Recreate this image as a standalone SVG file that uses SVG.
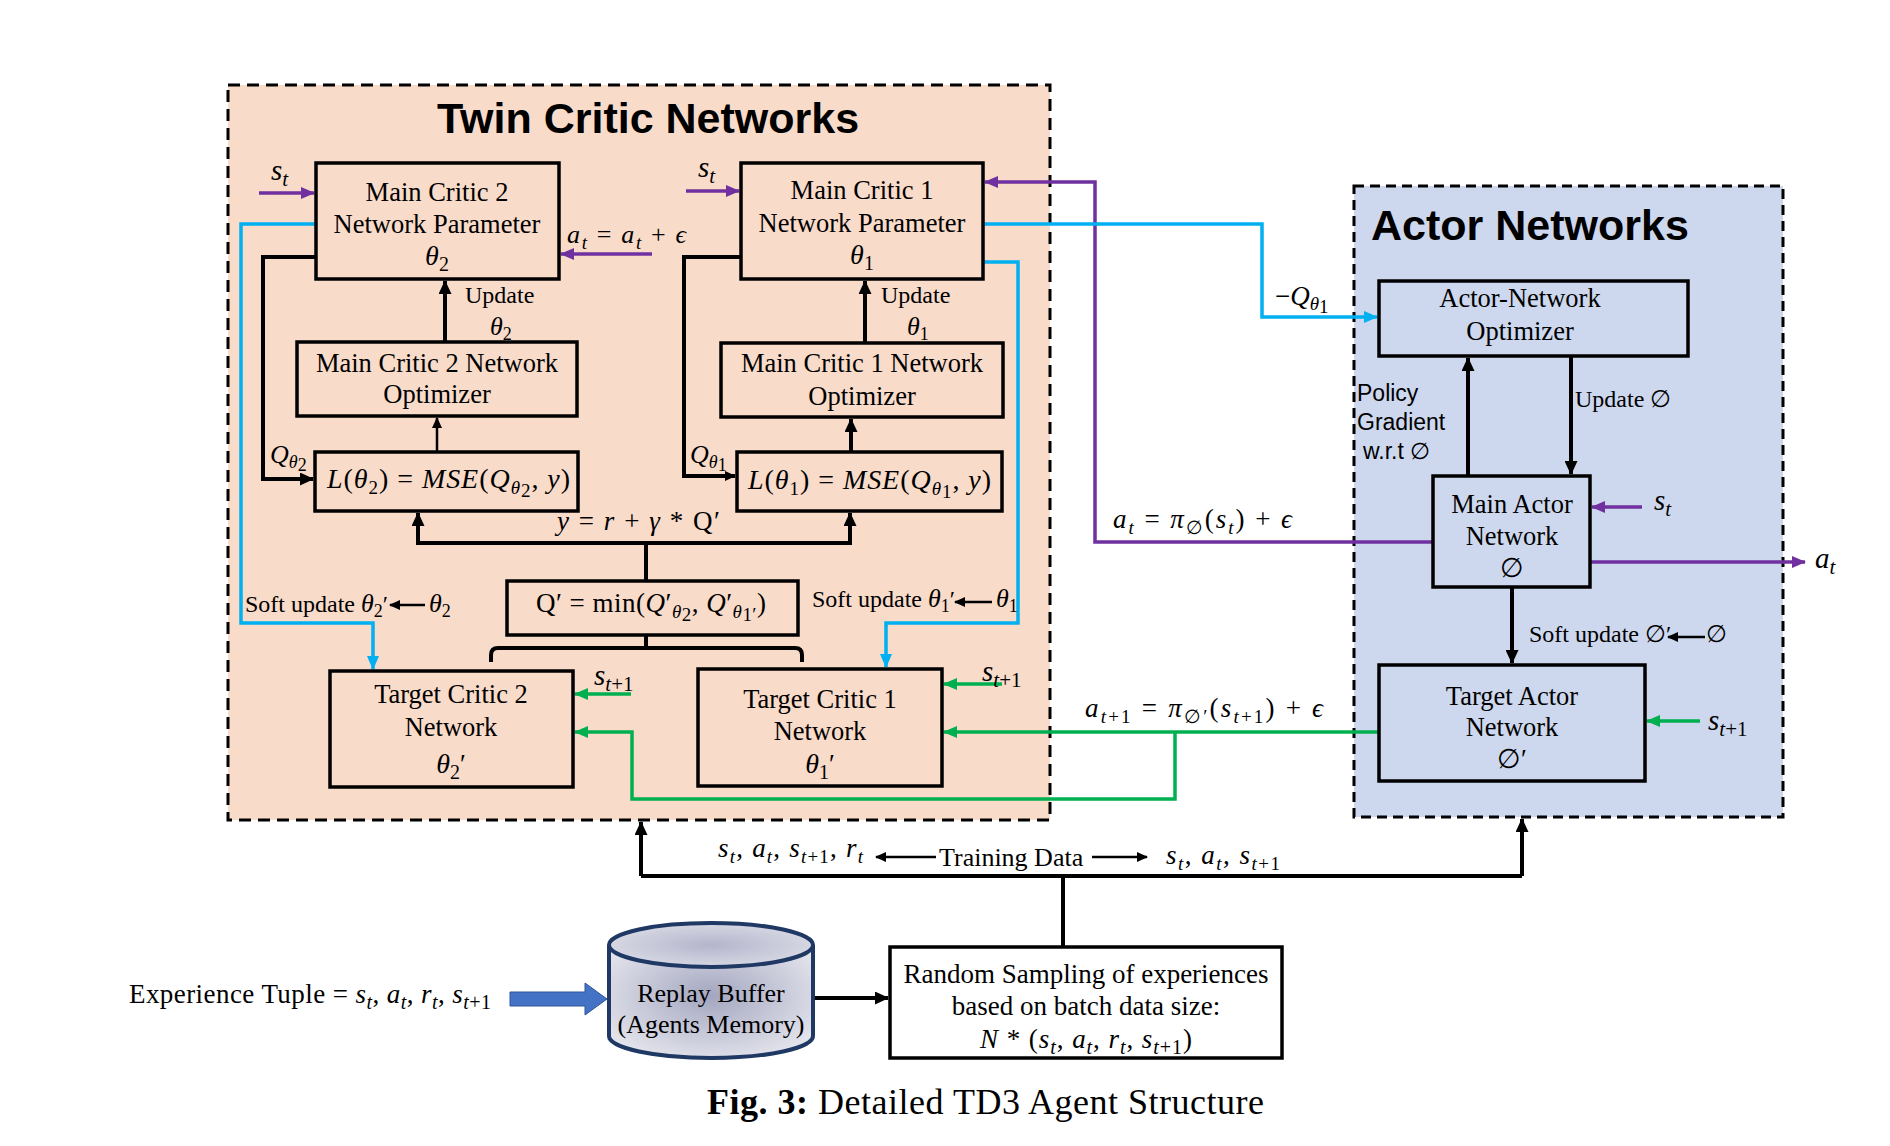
<svg xmlns="http://www.w3.org/2000/svg" width="1890" height="1146" viewBox="0 0 1890 1146">
<style>
text{font-family:"Liberation Serif","Times New Roman",serif;fill:#000}
.bx{font-size:26.5px}
.lb{font-size:24px}
.mi{font-style:italic}
.ttl{font-family:"Liberation Sans",Arial,sans-serif;font-weight:bold;font-size:43px}
.ar{font-family:"Liberation Sans",Arial,sans-serif;font-size:23px}
.node{fill:none;stroke:#000;stroke-width:3.5}
.kb{fill:none;stroke:#000;stroke-width:4}
.kt{fill:none;stroke:#000;stroke-width:2.5}
.pu{fill:none;stroke:#7030A0;stroke-width:3.5}
.bl{fill:none;stroke:#00B0F0;stroke-width:3.5}
.gr{fill:none;stroke:#00B050;stroke-width:3.5}
</style>
<defs>
<marker id="mk" markerUnits="userSpaceOnUse" markerWidth="14" markerHeight="13" refX="13" refY="6.5" orient="auto"><path d="M0,0 L14,6.5 L0,13 z" fill="#000"/></marker>
<marker id="mks" markerUnits="userSpaceOnUse" markerWidth="11" markerHeight="10" refX="10" refY="5" orient="auto"><path d="M0,0 L11,5 L0,10 z" fill="#000"/></marker>
<marker id="mp" markerUnits="userSpaceOnUse" markerWidth="14" markerHeight="12" refX="13" refY="6" orient="auto"><path d="M0,0 L14,6 L0,12 z" fill="#7030A0"/></marker>
<marker id="mb" markerUnits="userSpaceOnUse" markerWidth="14" markerHeight="12" refX="13" refY="6" orient="auto"><path d="M0,0 L14,6 L0,12 z" fill="#00B0F0"/></marker>
<marker id="mg" markerUnits="userSpaceOnUse" markerWidth="14" markerHeight="12" refX="13" refY="6" orient="auto"><path d="M0,0 L14,6 L0,12 z" fill="#00B050"/></marker>
<radialGradient id="cyl" cx="0.5" cy="0.45" r="0.6"><stop offset="0" stop-color="#A4A6C0"/><stop offset="1" stop-color="#E2E3EB"/></radialGradient>
<radialGradient id="cyltop" cx="0.5" cy="0.5" r="0.6"><stop offset="0" stop-color="#B4B5CC"/><stop offset="1" stop-color="#DDDEE7"/></radialGradient>
</defs>
<rect width="1890" height="1146" fill="#fff"/>

<g id="twin-critic-networks">
<rect x="228" y="85" width="822" height="735" fill="#F9DBCA" stroke="#000" stroke-width="3" stroke-dasharray="12 7"/>
<text class="ttl" x="437" y="133">Twin Critic Networks</text>
</g>
<g id="actor-networks">
<rect x="1354" y="186" width="429" height="631" fill="#CDD8EE" stroke="#000" stroke-width="3" stroke-dasharray="10 6"/>
<text class="ttl" x="1371" y="240">Actor Networks</text>
</g>

<g id="connectors">
<path class="pu" d="M259,193 H314" marker-end="url(#mp)"/>
<path class="pu" d="M652,254 H561" marker-end="url(#mp)"/>
<path class="bl" d="M316,224 H241 V623 H373 V669" marker-end="url(#mb)"/>
<path class="kb" d="M316,257 H263 V479 H313" marker-end="url(#mk)"/>
<path class="kb" d="M445,342 V281" marker-end="url(#mk)"/>
<path class="kt" d="M437,452 V418" marker-end="url(#mks)"/>
<path class="pu" d="M686,191 H739" marker-end="url(#mp)"/>
<path class="pu" d="M1433,542 H1095 V182 H985" marker-end="url(#mp)"/>
<path class="bl" d="M983,224 H1262 V317 H1377" marker-end="url(#mb)"/>
<path class="bl" d="M983,262 H1018 V623 H886 V667" marker-end="url(#mb)"/>
<path class="kb" d="M741,257 H684 V476 H735" marker-end="url(#mks)"/>
<path class="kb" d="M865,343 V281" marker-end="url(#mk)"/>
<path class="kb" d="M851,452 V419" marker-end="url(#mk)"/>
<path class="kb" d="M646,581 V543"/>
<path class="kb" d="M646,543 H418 V513" marker-end="url(#mk)"/>
<path class="kb" d="M646,543 H850 V513" marker-end="url(#mk)"/>
<path class="kb" d="M646,635 V648"/>
<path class="kb" d="M491,662 V655 Q491,648 498,648 H795 Q802,648 802,655 V662"/>
<path class="kt" d="M425,605 H390" marker-end="url(#mks)"/>
<path class="kt" d="M992,602 H955" marker-end="url(#mks)"/>
<path class="gr" d="M631,694 H575" marker-end="url(#mg)"/>
<path class="gr" d="M1002,684 H944" marker-end="url(#mg)"/>
<path class="gr" d="M1379,732 H944" marker-end="url(#mg)"/>
<path class="gr" d="M1175,732 V799 H632 V732 H575" marker-end="url(#mg)"/>
<path class="kb" d="M1468,476 V358" marker-end="url(#mk)"/>
<path class="kb" d="M1571,356 V474" marker-end="url(#mk)"/>
<path class="pu" d="M1642,507 H1592" marker-end="url(#mp)"/>
<path class="pu" d="M1590,562 H1805" marker-end="url(#mp)"/>
<path class="kb" d="M1512,587 V663" marker-end="url(#mk)"/>
<path class="kt" d="M1705,637 H1668" marker-end="url(#mks)"/>
<path class="gr" d="M1700,721 H1647" marker-end="url(#mg)"/>
<path class="kb" d="M641,876 H1522"/>
<path class="kb" d="M641,876 V822" marker-end="url(#mk)"/>
<path class="kb" d="M1522,876 V819" marker-end="url(#mk)"/>
<path class="kb" d="M1063,876 V946"/>
<path class="kb" d="M813,998 H888" marker-end="url(#mk)"/>
<path class="kt" d="M936,857 H876" marker-end="url(#mks)"/>
<path class="kt" d="M1092,857 H1147" marker-end="url(#mks)"/>
<polygon points="510,992 585,992 585,983 607,999 585,1015 585,1006 510,1006" fill="#4472C4" stroke="#2F5597" stroke-width="1"/>
</g>

<g id="main-critic-2">
<rect class="node" x="316" y="163" width="243" height="116"/>
<text class="bx" x="437" y="201" text-anchor="middle">Main Critic 2</text>
<text class="bx" x="437" y="233" text-anchor="middle">Network Parameter</text>
<text class="bx" x="437" y="265" text-anchor="middle"><tspan class="mi" font-size="28">θ</tspan><tspan font-size="20" dy="6">2</tspan></text>
</g>
<g id="main-critic-1">
<rect class="node" x="741" y="163" width="242" height="116"/>
<text class="bx" x="862" y="199" text-anchor="middle">Main Critic 1</text>
<text class="bx" x="862" y="232" text-anchor="middle">Network Parameter</text>
<text class="bx" x="862" y="264" text-anchor="middle"><tspan class="mi" font-size="28">θ</tspan><tspan font-size="20" dy="6">1</tspan></text>
</g>
<g id="critic-2-optimizer">
<rect class="node" x="297" y="342" width="280" height="74"/>
<text class="bx" x="437" y="372" text-anchor="middle">Main Critic 2 Network</text>
<text class="bx" x="437" y="403" text-anchor="middle">Optimizer</text>
</g>
<g id="critic-1-optimizer">
<rect class="node" x="721" y="343" width="282" height="74"/>
<text class="bx" x="862" y="372" text-anchor="middle">Main Critic 1 Network</text>
<text class="bx" x="862" y="405" text-anchor="middle">Optimizer</text>
</g>
<g id="loss-2">
<rect class="node" x="315" y="452" width="263" height="59"/>
<text x="327" y="488" font-size="28" textLength="243" lengthAdjust="spacing"><tspan class="mi">L</tspan>(<tspan class="mi">θ</tspan><tspan font-size="19" dy="6">2</tspan><tspan dy="-6">) = </tspan><tspan class="mi">MSE</tspan>(<tspan class="mi">Q</tspan><tspan class="mi" font-size="19" dy="6">θ</tspan><tspan font-size="19" dy="3">2</tspan><tspan dy="-9">, </tspan><tspan class="mi">y</tspan>)</text>
</g>
<g id="loss-1">
<rect class="node" x="737" y="452" width="265" height="59"/>
<text x="748" y="489" font-size="28" textLength="243" lengthAdjust="spacing"><tspan class="mi">L</tspan>(<tspan class="mi">θ</tspan><tspan font-size="19" dy="6">1</tspan><tspan dy="-6">) = </tspan><tspan class="mi">MSE</tspan>(<tspan class="mi">Q</tspan><tspan class="mi" font-size="19" dy="6">θ</tspan><tspan font-size="19" dy="3">1</tspan><tspan dy="-9">, </tspan><tspan class="mi">y</tspan>)</text>
</g>
<g id="q-min">
<rect class="node" x="507" y="581" width="291" height="54"/>
<text x="536" y="612" font-size="27" textLength="230" lengthAdjust="spacing">Q′ = min(<tspan class="mi">Q</tspan>′<tspan class="mi" font-size="19" dy="6">θ</tspan><tspan font-size="19" dy="3">2</tspan><tspan dy="-9">, </tspan><tspan class="mi">Q</tspan>′<tspan class="mi" font-size="19" dy="6">θ</tspan><tspan font-size="19" dy="3">1′</tspan><tspan dy="-9">)</tspan></text>
</g>
<g id="target-critic-2">
<rect class="node" x="330" y="671" width="243" height="116"/>
<text class="bx" x="451" y="703" text-anchor="middle">Target Critic 2</text>
<text class="bx" x="451" y="736" text-anchor="middle">Network</text>
<text class="bx" x="451" y="773" text-anchor="middle"><tspan class="mi" font-size="28">θ</tspan><tspan font-size="20" dy="6">2</tspan><tspan dy="-6">′</tspan></text>
</g>
<g id="target-critic-1">
<rect class="node" x="698" y="669" width="244" height="117"/>
<text class="bx" x="820" y="708" text-anchor="middle">Target Critic 1</text>
<text class="bx" x="820" y="740" text-anchor="middle">Network</text>
<text class="bx" x="820" y="773" text-anchor="middle"><tspan class="mi" font-size="28">θ</tspan><tspan font-size="20" dy="6">1</tspan><tspan dy="-6">′</tspan></text>
</g>
<g id="actor-optimizer">
<rect class="node" x="1379" y="281" width="309" height="75"/>
<text class="bx" x="1520" y="307" text-anchor="middle">Actor-Network</text>
<text class="bx" x="1520" y="340" text-anchor="middle">Optimizer</text>
</g>
<g id="main-actor">
<rect class="node" x="1433" y="476" width="157" height="111"/>
<text class="bx" x="1512" y="513" text-anchor="middle">Main Actor</text>
<text class="bx" x="1512" y="545" text-anchor="middle">Network</text>
<text class="bx" x="1512" y="577" text-anchor="middle">∅</text>
</g>
<g id="target-actor">
<rect class="node" x="1379" y="665" width="266" height="116"/>
<text class="bx" x="1512" y="705" text-anchor="middle">Target Actor</text>
<text class="bx" x="1512" y="736" text-anchor="middle">Network</text>
<text class="bx" x="1512" y="768" text-anchor="middle">∅′</text>
</g>
<g id="replay-buffer">
<path d="M609,945 V1036 A102,22 0 0 0 813,1036 V945" fill="url(#cyl)" stroke="#1F3864" stroke-width="4"/>
<ellipse cx="711" cy="945" rx="102" ry="22" fill="url(#cyltop)" stroke="#1F3864" stroke-width="4"/>
<text x="711" y="1002" font-size="26" text-anchor="middle">Replay Buffer</text>
<text x="711" y="1033" font-size="26" text-anchor="middle">(Agents Memory)</text>
</g>
<g id="random-sampling">
<rect class="node" x="890" y="947" width="392" height="111"/>
<text x="1086" y="983" font-size="27" text-anchor="middle">Random Sampling of experiences</text>
<text x="1086" y="1015" font-size="27" text-anchor="middle">based on batch data size:</text>
<text x="1086" y="1048" font-size="27" text-anchor="middle" textLength="212" lengthAdjust="spacing"><tspan class="mi">N</tspan> * (<tspan class="mi">s</tspan><tspan class="mi" font-size="20" dy="6">t</tspan><tspan dy="-6">, </tspan><tspan class="mi">a</tspan><tspan class="mi" font-size="20" dy="6">t</tspan><tspan dy="-6">, </tspan><tspan class="mi">r</tspan><tspan class="mi" font-size="20" dy="6">t</tspan><tspan dy="-6">, </tspan><tspan class="mi">s</tspan><tspan class="mi" font-size="20" dy="6">t</tspan><tspan font-size="20">+1</tspan><tspan dy="-6">)</tspan></text>
</g>

<g id="labels">
<text class="mi" x="271" y="180" font-size="29">s<tspan font-size="21" dy="6">t</tspan></text>
<text class="mi" x="698" y="177" font-size="29">s<tspan font-size="21" dy="6">t</tspan></text>
<text x="567" y="243" font-size="26" textLength="119" lengthAdjust="spacing"><tspan class="mi">a</tspan><tspan class="mi" font-size="19" dy="6">t</tspan><tspan dy="-6"> = </tspan><tspan class="mi">a</tspan><tspan class="mi" font-size="19" dy="6">t</tspan><tspan dy="-6"> + </tspan><tspan class="mi">ϵ</tspan></text>
<text class="lb" x="465" y="303">Update</text>
<text class="lb" x="490" y="335"><tspan class="mi" font-size="26">θ</tspan><tspan font-size="18" dy="5">2</tspan></text>
<text class="lb" x="881" y="303">Update</text>
<text class="lb" x="907" y="335"><tspan class="mi" font-size="26">θ</tspan><tspan font-size="18" dy="5">1</tspan></text>
<text x="270" y="463" font-size="26"><tspan class="mi">Q</tspan><tspan class="mi" font-size="18" dy="5">θ</tspan><tspan font-size="18" dy="3">2</tspan></text>
<text x="690" y="463" font-size="26"><tspan class="mi">Q</tspan><tspan class="mi" font-size="18" dy="5">θ</tspan><tspan font-size="18" dy="3">1</tspan></text>
<text x="557" y="530" font-size="27" textLength="163" lengthAdjust="spacing"><tspan class="mi">y</tspan> = <tspan class="mi">r</tspan> + <tspan class="mi">γ</tspan> * Q′</text>
<text class="lb" x="245" y="612">Soft update <tspan class="mi" font-size="26">θ</tspan><tspan font-size="18" dy="5">2</tspan><tspan dy="-5">′</tspan></text>
<text class="lb" x="429" y="612"><tspan class="mi" font-size="26">θ</tspan><tspan font-size="18" dy="5">2</tspan></text>
<text class="lb" x="812" y="607">Soft update <tspan class="mi" font-size="26">θ</tspan><tspan font-size="18" dy="5">1</tspan><tspan dy="-5">′</tspan></text>
<text class="lb" x="996" y="607"><tspan class="mi" font-size="26">θ</tspan><tspan font-size="18" dy="5">1</tspan></text>
<text class="mi" x="594" y="685" font-size="29">s<tspan font-size="21" dy="6">t</tspan><tspan font-size="21" font-style="normal">+1</tspan></text>
<text class="mi" x="982" y="681" font-size="29">s<tspan font-size="21" dy="6">t</tspan><tspan font-size="21" font-style="normal">+1</tspan></text>
<text x="1275" y="305" font-size="27"><tspan>−</tspan><tspan class="mi">Q</tspan><tspan class="mi" font-size="19" dy="5">θ</tspan><tspan font-size="19" dy="3">1</tspan></text>
<text x="1113" y="528" font-size="27" textLength="179" lengthAdjust="spacing"><tspan class="mi">a</tspan><tspan class="mi" font-size="19" dy="6">t</tspan><tspan dy="-6"> = </tspan><tspan class="mi">π</tspan><tspan font-size="19" dy="6">∅</tspan><tspan dy="-6">(</tspan><tspan class="mi">s</tspan><tspan class="mi" font-size="19" dy="6">t</tspan><tspan dy="-6">) + </tspan><tspan class="mi">ϵ</tspan></text>
<text x="1085" y="717" font-size="27" textLength="238" lengthAdjust="spacing"><tspan class="mi">a</tspan><tspan class="mi" font-size="19" dy="6">t</tspan><tspan font-size="19">+1</tspan><tspan dy="-6"> = </tspan><tspan class="mi">π</tspan><tspan font-size="19" dy="6">∅′</tspan><tspan dy="-6">(</tspan><tspan class="mi">s</tspan><tspan class="mi" font-size="19" dy="6">t</tspan><tspan font-size="19">+1</tspan><tspan dy="-6">) + </tspan><tspan class="mi">ϵ</tspan></text>
<text class="ar" x="1357" y="401">Policy</text>
<text class="ar" x="1357" y="430">Gradient</text>
<text class="ar" x="1363" y="459">w.r.t ∅</text>
<text class="lb" x="1575" y="407">Update ∅</text>
<text class="mi" x="1654" y="510" font-size="29">s<tspan font-size="21" dy="6">t</tspan></text>
<text class="mi" x="1815" y="568" font-size="29">a<tspan font-size="21" dy="6">t</tspan></text>
<text class="lb" x="1529" y="642">Soft update ∅′</text>
<text class="lb" x="1706" y="642">∅</text>
<text class="mi" x="1708" y="730" font-size="29">s<tspan font-size="21" dy="6">t</tspan><tspan font-size="21" font-style="normal">+1</tspan></text>
<text x="718" y="857" font-size="27" textLength="145" lengthAdjust="spacing"><tspan class="mi">s</tspan><tspan class="mi" font-size="19" dy="6">t</tspan><tspan dy="-6">, </tspan><tspan class="mi">a</tspan><tspan class="mi" font-size="19" dy="6">t</tspan><tspan dy="-6">, </tspan><tspan class="mi">s</tspan><tspan class="mi" font-size="19" dy="6">t</tspan><tspan font-size="19">+1</tspan><tspan dy="-6">, </tspan><tspan class="mi">r</tspan><tspan class="mi" font-size="19" dy="6">t</tspan></text>
<text x="939" y="866" font-size="26">Training Data</text>
<text x="1166" y="864" font-size="27" textLength="114" lengthAdjust="spacing"><tspan class="mi">s</tspan><tspan class="mi" font-size="19" dy="6">t</tspan><tspan dy="-6">, </tspan><tspan class="mi">a</tspan><tspan class="mi" font-size="19" dy="6">t</tspan><tspan dy="-6">, </tspan><tspan class="mi">s</tspan><tspan class="mi" font-size="19" dy="6">t</tspan><tspan font-size="19">+1</tspan></text>
<text x="129" y="1003" font-size="27" textLength="362" lengthAdjust="spacing">Experience Tuple = <tspan class="mi">s</tspan><tspan class="mi" font-size="20" dy="6">t</tspan><tspan dy="-6">, </tspan><tspan class="mi">a</tspan><tspan class="mi" font-size="20" dy="6">t</tspan><tspan dy="-6">, </tspan><tspan class="mi">r</tspan><tspan class="mi" font-size="20" dy="6">t</tspan><tspan dy="-6">, </tspan><tspan class="mi">s</tspan><tspan class="mi" font-size="20" dy="6">t</tspan><tspan font-size="20">+1</tspan></text>
<text x="707" y="1114" font-size="36" textLength="557" lengthAdjust="spacing"><tspan font-weight="bold">Fig. 3:</tspan> Detailed TD3 Agent Structure</text>
</g>
</svg>
